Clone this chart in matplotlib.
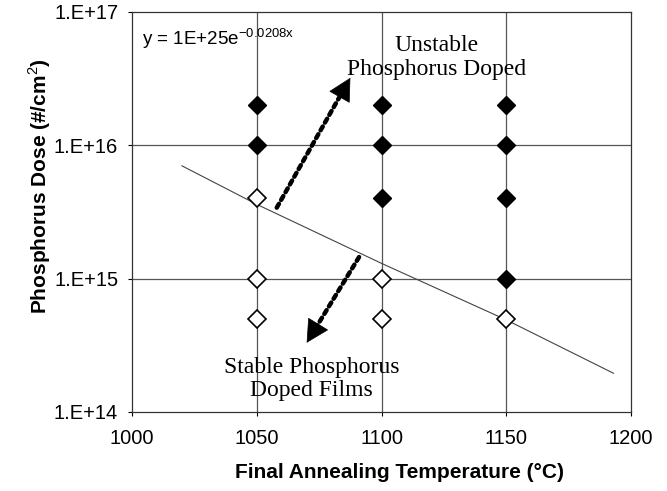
import numpy as np
import matplotlib.pyplot as plt

plt.rcParams['mathtext.fontset'] = 'custom'
plt.rcParams['mathtext.rm'] = 'Liberation Sans'

# dados
temp_instavel = [1050, 1050, 1100, 1100, 1100, 1150, 1150, 1150, 1150]
dose_instavel = [2e16, 1e16, 2e16, 1e16, 4e15, 2e16, 1e16, 4e15, 1e15]

temp_estavel = [1050, 1050, 1050, 1100, 1100, 1150]
dose_estavel = [4e15, 1e15, 5e14, 1e15, 5e14, 5e14]

# linha de tendencia
temp_tendencia = [1020, 1050, 1100, 1150, 1193]
dose_tendencia = [7.0e15, 3.6e15, 1.3e15, 4.9e14, 1.95e14]

# setas: (inicio, ponta)
seta_cima = [(1058, 3.4e15), (1087.5, 3.2e16)]
seta_baixo = [(1091, 1.45e15), (1070, 3.3e14)]

y_ticks = [1e14, 1e15, 1e16, 1e17]
y_labels = ['1.E+14', '1.E+15', '1.E+16', '1.E+17']
x_ticks = [1000, 1050, 1100, 1150, 1200]

fig = plt.figure(figsize=(6.67, 4.91), dpi=100)
ax = fig.add_axes([0.198, 0.161, 0.748, 0.815])
sans = 'Liberation Sans'
serif = 'Liberation Serif'

ax.set_yscale('log')
ax.set_xlim(1000, 1200)
ax.set_ylim(1e14, 1e17)
ax.set_yticks(y_ticks)
ax.set_yticklabels(y_labels, fontfamily=sans, fontsize=14.5)
ax.set_xticks(x_ticks)
ax.set_xticklabels([str(t) for t in x_ticks], fontfamily=sans, fontsize=14.5)
ax.minorticks_off()
ax.tick_params(axis='y', direction='out', length=3, width=0.8, pad=7)
ax.tick_params(axis='x', direction='out', length=3, width=0.8, pad=9)

for xv in x_ticks[1:-1]:
    ax.axvline(xv, color='#555555', lw=0.9, zorder=1)
for yv in y_ticks[1:-1]:
    ax.axhline(yv, color='#555555', lw=0.9, zorder=1)

for s in ax.spines.values():
    s.set_color('#333333')
    s.set_linewidth(0.9)

ax.plot(temp_tendencia, dose_tendencia, color='#444444', lw=0.8, zorder=2)

ax.plot(temp_instavel, dose_instavel, 'D', ms=9, color='black', zorder=3)
ax.plot(temp_estavel, dose_estavel, 'D', ms=9, mfc='white', mec='black', mew=1.2, zorder=3)


# seta pontilhada com cabeca solida
def desenha_seta(inicio, ponta, tam_cabeca=20):
    p0 = ax.transData.transform(inicio)
    p1 = ax.transData.transform(ponta)
    d = (p1 - p0) / np.hypot(*(p1 - p0))
    base = ax.transData.inverted().transform(p1 - d * tam_cabeca)
    ax.annotate('', xy=tuple(base), xytext=inicio,
                arrowprops=dict(arrowstyle='-', linestyle=(0, (1, 1)), lw=3.2,
                                color='black', shrinkA=0, shrinkB=0), zorder=4)
    ax.annotate('', xy=ponta, xytext=tuple(base),
                arrowprops=dict(arrowstyle='-|>,head_length=0.95,head_width=0.5',
                                lw=0.5, color='black', mutation_scale=16,
                                shrinkA=0, shrinkB=0), zorder=4)


desenha_seta(*seta_cima)
desenha_seta(*seta_baixo)

ax.text(1004, 6.3e16, 'y = 1E+25e$^{\\mathrm{-0.0208x}}$', fontfamily=sans, fontsize=13.5,
        va='center', ha='left')
ax.text(1122, 6.7e16, 'Unstable\nPhosphorus Doped', fontfamily=serif, fontsize=17,
        ha='center', va='top', linespacing=1.2)
ax.text(1072, 2.6e14, 'Stable Phosphorus\nDoped Films', fontfamily=serif, fontsize=17,
        ha='center', va='top', linespacing=1.15)

ax.set_xlabel('Final Annealing Temperature (°C)', fontfamily=sans, fontsize=15,
              fontweight='bold')
ax.set_ylabel('Phosphorus Dose (#/cm$^{\\mathrm{2}}$)', fontfamily=sans, fontsize=15,
              fontweight='bold')
ax.xaxis.set_label_coords(0.537, -0.128)
ax.yaxis.set_label_coords(-0.158, 0.565)

fig.savefig('out.png', dpi=100)
